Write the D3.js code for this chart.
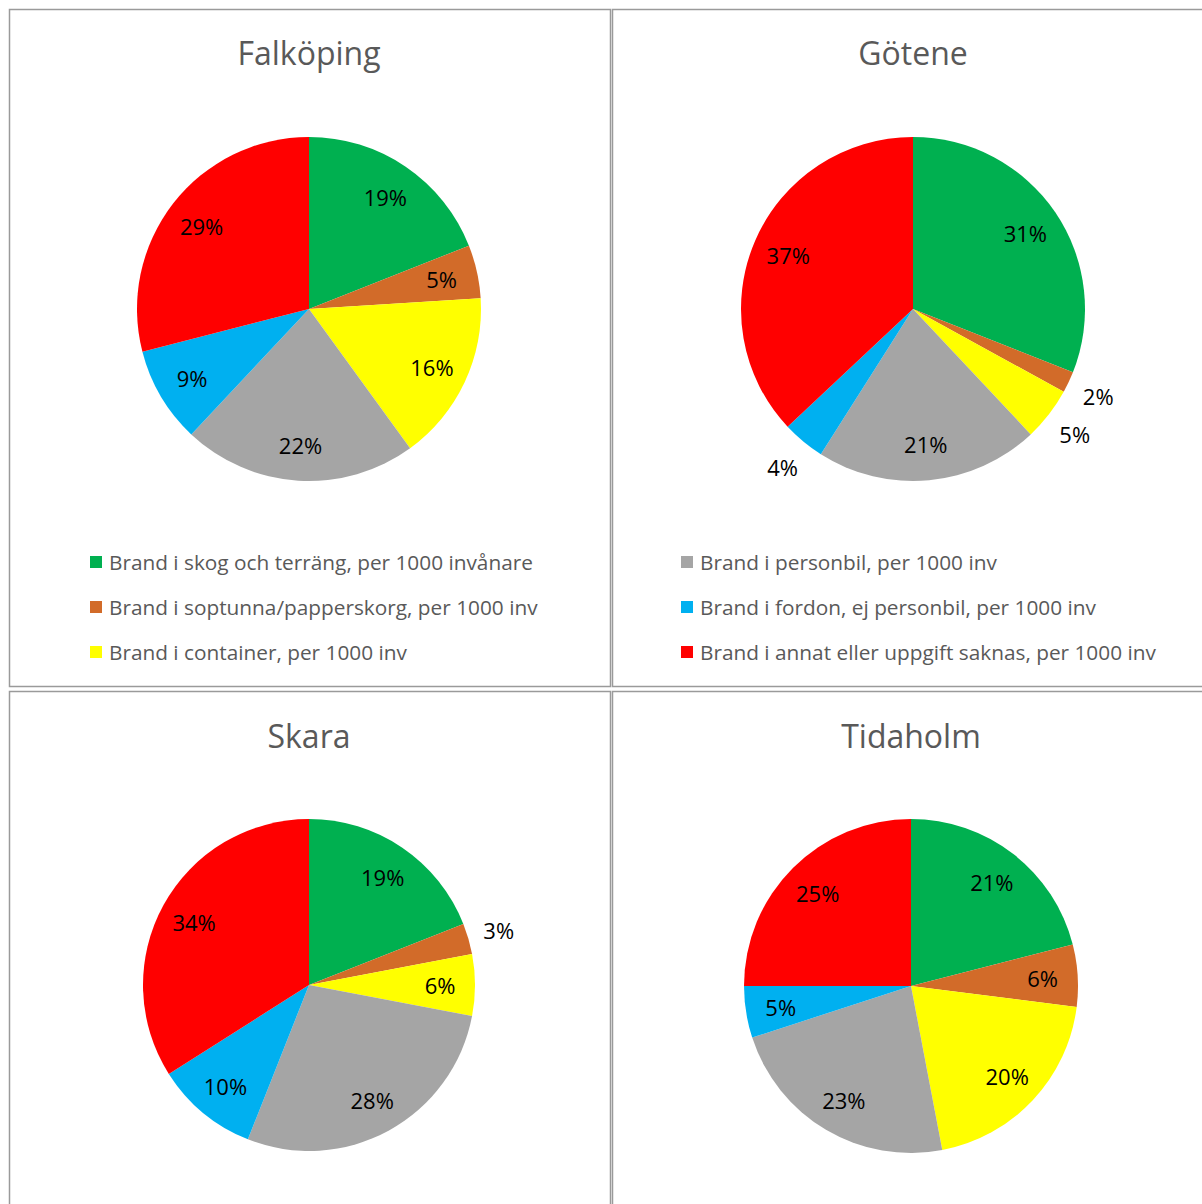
<!DOCTYPE html>
<html lang="sv">
<head>
<meta charset="UTF-8">
<script src="https://d3js.org/d3.v7.min.js"></script>
<style>
    body { margin: 0; background: #fff; font-family: "Open Sans", sans-serif; }
    .title { font-size: 32px; fill: #595959; }
    .legend { font-size: 20.8px; fill: #595959; }
    .label { font-size: 22px; fill: #000; }
</style>
</head>
<body>
<div id="chart"></div>
<script>
    const categories = [
        "Brand i skog och terräng, per 1000 invånare",
        "Brand i soptunna/papperskorg, per 1000 inv",
        "Brand i container, per 1000 inv",
        "Brand i personbil, per 1000 inv",
        "Brand i fordon, ej personbil, per 1000 inv",
        "Brand i annat eller uppgift saknas, per 1000 inv"
    ];
    const colors = ["#00B050", "#D26B29", "#FFFF00", "#A5A5A5", "#00B0F0", "#FF0000"];

    const towns = ["Falköping", "Götene", "Skara", "Tidaholm"];
    const falkoping = [19, 5, 16, 22, 9, 29];
    const gotene = [31, 2, 5, 21, 4, 37];
    const skara = [19, 3, 6, 28, 10, 34];
    const tidaholm = [21, 6, 20, 23, 5, 25];
    const values = [falkoping, gotene, skara, tidaholm];
    // slices whose label sits outside the pie
    const outside = [[], [1, 2, 4], [1], []];

    // panel boxes and pie geometry
    const panels = [
        {x: 9.5, y: 9.5, w: 601, h: 677, cx: 309, cy: 309, r: 172, ty: 65},
        {x: 612.5, y: 9.5, w: 620, h: 677, cx: 913, cy: 309, r: 172, ty: 65},
        {x: 9.5, y: 691.5, w: 601, h: 560, cx: 309, cy: 985, r: 166, ty: 748},
        {x: 612.5, y: 691.5, w: 620, h: 560, cx: 911, cy: 986, r: 167, ty: 748}
    ];

    const svg = d3.select("#chart").append("svg")
        .attr("width", 1202)
        .attr("height", 1204);

    const pie = d3.pie().sort(null).value(d => d);

    panels.forEach((p, i) => {
        svg.append("rect")
            .attr("x", p.x).attr("y", p.y)
            .attr("width", p.w).attr("height", p.h)
            .attr("fill", "none")
            .attr("stroke", "#9a9a9a")
            .attr("stroke-width", 1.5);

        svg.append("text")
            .attr("class", "title")
            .attr("x", p.cx)
            .attr("y", p.ty)
            .attr("text-anchor", "middle")
            .text(towns[i]);

        const g = svg.append("g").attr("transform", `translate(${p.cx},${p.cy})`);
        const arcs = pie(values[i]);
        const arc = d3.arc().innerRadius(0).outerRadius(p.r);
        const inLabel = d3.arc().innerRadius(p.r * 0.79).outerRadius(p.r * 0.79);
        const outLabel = d3.arc().innerRadius(p.r * 1.19).outerRadius(p.r * 1.19);

        g.selectAll("path")
            .data(arcs)
            .enter()
            .append("path")
            .attr("d", arc)
            .attr("fill", (d, j) => colors[j]);

        g.selectAll(".label")
            .data(arcs)
            .enter()
            .append("text")
            .attr("class", "label")
            .attr("transform", (d, j) => `translate(${(outside[i].includes(j) ? outLabel : inLabel).centroid(d)})`)
            .attr("text-anchor", "middle")
            .attr("dominant-baseline", "central")
            .text(d => d.data + "%");
    });

    // legend is split over the two upper panels
    const legendCols = [{x: 90, items: [0, 1, 2]}, {x: 681, items: [3, 4, 5]}];
    const legendY = d3.scalePoint().domain([0, 1, 2]).range([562, 652]);

    legendCols.forEach(col => {
        const lg = svg.append("g");
        col.items.forEach((c, k) => {
            lg.append("rect")
                .attr("x", col.x)
                .attr("y", legendY(k) - 6)
                .attr("width", 12)
                .attr("height", 12)
                .attr("fill", colors[c]);
            lg.append("text")
                .attr("class", "legend")
                .attr("x", col.x + 19)
                .attr("y", legendY(k))
                .attr("dominant-baseline", "central")
                .text(categories[c]);
        });
    });
</script>
</body>
</html>
